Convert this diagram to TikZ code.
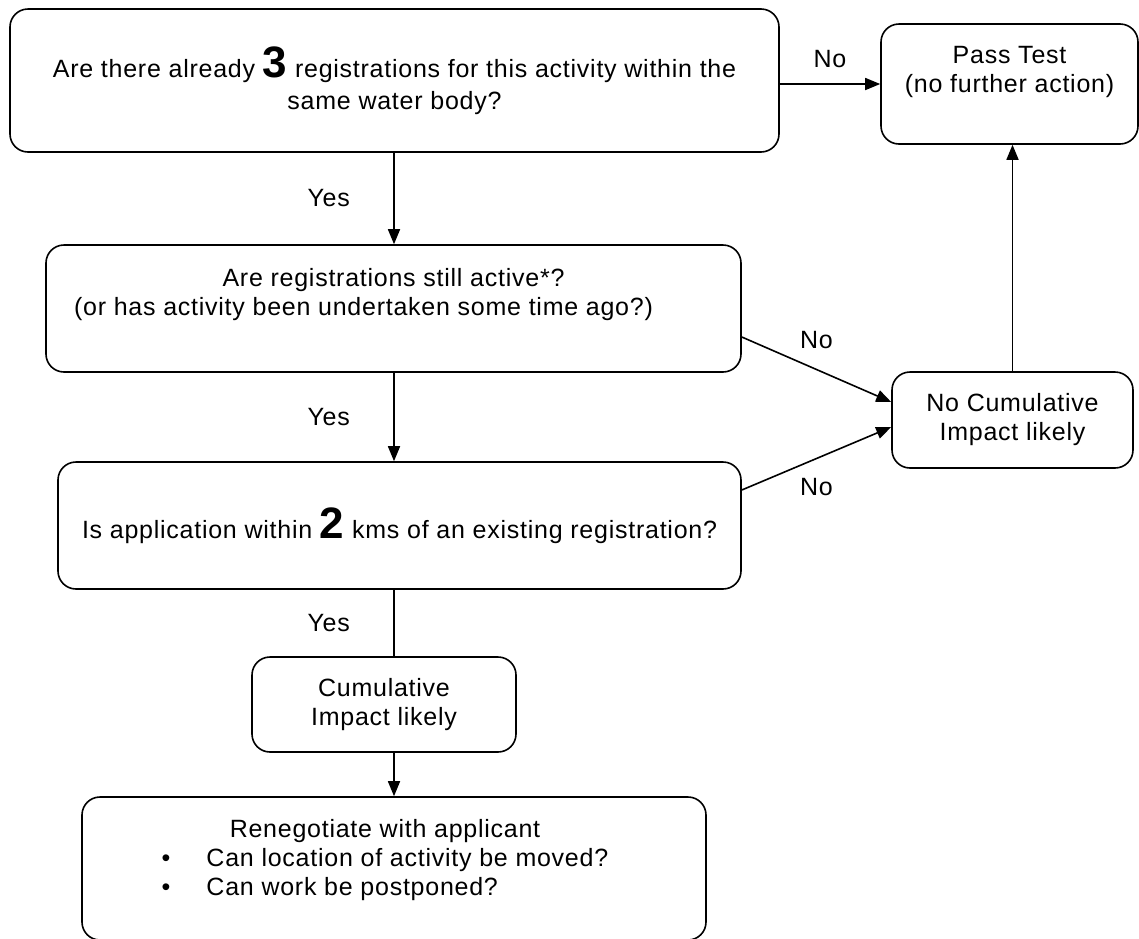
\documentclass[tikz,border=0pt]{standalone}
\usepackage{fontspec}
\setmainfont{Liberation Sans}[LetterSpace=3]
\usetikzlibrary{arrows.meta, positioning}

\newcommand{\bignum}[1]{{\fontsize{44}{29}\selectfont\bfseries #1}}

\begin{document}
\begin{tikzpicture}[
  x=1pt, y=-1pt,
  box/.style={draw, rounded corners=18pt, align=center, font=\fontsize{25}{29}\selectfont},
  txt/.style={align=center, inner sep=0pt, font=\fontsize{25}{29}\selectfont},
  lbl/.style={font=\fontsize{25}{29}\selectfont},
  >={Triangle[length=15pt, width=12pt]}, line width=1.6pt
]
\useasboundingbox (0,0) rectangle (1139,938);
\coordinate (spine) at (394,0);

\node[box, minimum width=769pt, minimum height=143pt] (q1) at (394.5,80.5)
  {Are there already \bignum{3} registrations for this activity within the\\[3pt]same water body?};
\node[box, minimum width=257pt, minimum height=120pt] (pass) at (1009.5,84) {};
\node[txt, below=22pt of pass.north] (passtxt) {Pass Test\\(no further action)};
\node[box, minimum width=695pt, minimum height=127pt] (q2) at (393.5,308.5) {};
\node[txt, below=23pt of q2.north] (q2txt)
  {Are registrations still active*?\\\hspace*{-60pt}(or has activity been undertaken some time ago?)};
\node[box, minimum width=683pt, minimum height=127pt] (q3) at (399.5,525.5)
  {Is application within \bignum{2} kms of an existing registration?};
\node[box, minimum width=241pt, minimum height=96pt] (nocum) at (1012.5,420) {No Cumulative\\Impact likely};
\node[box, minimum width=264pt, minimum height=95pt] (cum) at (384,704.5) {Cumulative\\Impact likely};
\node[box, minimum width=624pt, minimum height=143pt] (reneg) at (394,868.5) {};
\node[txt, below=20pt of reneg.north, xshift=-9pt] (renegtxt) {%
  \begin{tabular}{@{}l@{\hspace{36pt}}l@{}}
  \multicolumn{2}{c}{Renegotiate with applicant}\\
  \textbullet & Can location of activity be moved?\\
  \textbullet & Can work be postponed?
  \end{tabular}};

\draw[->] (q1.east |- pass.west) -- node[lbl, above=12pt] (no1) {No} (pass.west);
\draw[->] (q1.south -| spine) -- node[lbl, left=40pt] (yes1) {Yes} (q2.north -| spine);
\draw[->] (q2.south -| spine) -- node[lbl, left=40pt] (yes2) {Yes} (q3.north -| spine);
\draw (q3.south -| spine) -- node[lbl, left=40pt] (yes3) {Yes} (cum.north -| spine);
\draw[->] (cum.south -| spine) -- (reneg.north -| spine);
\draw[->] ([yshift=-28.5pt]q2.east) -- node[lbl, above=17pt] (no2) {No} ([yshift=18pt]nocum.west);
\draw[->] ([yshift=35.5pt]q3.east) -- node[lbl, below=16pt] (no3) {No} ([yshift=-7pt]nocum.west);
\draw[->] (nocum.north) -- (nocum.north |- pass.south);
\end{tikzpicture}
\end{document}
